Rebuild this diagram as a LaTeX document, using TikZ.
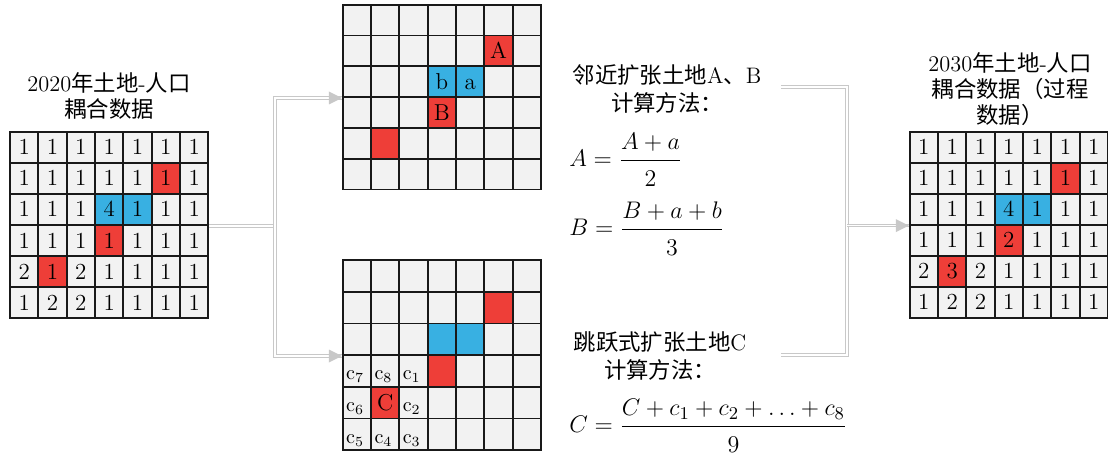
\documentclass[tikz,border=0pt]{standalone}
\usepackage{fontspec}
\newfontfamily\cjk{Noto Sans CJK SC}
\usetikzlibrary{calc}

\definecolor{cellred}{RGB}{238,62,56}
\definecolor{cellblue}{RGB}{56,176,226}
\definecolor{cellgray}{RGB}{242,242,242}
\definecolor{flowgray}{RGB}{200,200,200}

\tikzset{
  cell/.style={draw=black!90, line width=0.9pt, minimum width=14.17pt, inner sep=0pt,
    text height=7.5pt, text depth=0pt, font=\fontsize{11.5}{12}\selectfont},
  celltext/.style={inner sep=0pt, text height=7.5pt, text depth=0pt, font=\fontsize{11.5}{12}\selectfont},
  clabel/.style={inner sep=0pt, font=\fontsize{10}{11}\selectfont},
  title/.style={align=center, inner sep=0pt, font=\fontsize{11.2}{13}\selectfont},
  method/.style={align=center, inner sep=0pt, font=\fontsize{11.2}{14}\selectfont},
  eq/.style={anchor=west, inner sep=0pt, font=\fontsize{13}{15}\selectfont},
  flow/.style={draw=flowgray, double=white, double distance=0.8pt, line width=0.5pt},
}

\begin{document}
\begin{tikzpicture}[x=0.5pt, y=-0.5pt]
\useasboundingbox (0,0) rectangle (1108,465);

% ===== 2020年の格子 =====
\fill[cellgray] (10,131.7) rectangle ++(198.3,186.6);
\foreach \r/\c/\col in {2/6/cellred, 3/4/cellblue, 3/5/cellblue, 4/4/cellred, 5/2/cellred}
  \fill[\col] ({10+(\c-1)*28.33},{131.7+(\r-1)*31.1}) rectangle ++(28.33,31.1);
\foreach \row [count=\r] in {{1,1,1,1,1,1,1},{1,1,1,1,1,1,1},{1,1,1,4,1,1,1},
                             {1,1,1,1,1,1,1},{2,1,2,1,1,1,1},{1,2,2,1,1,1,1}}
  \foreach \v [count=\c] in \row
    \node[cell, minimum height=15.55pt] (L-\r-\c) at ({10+(\c-0.5)*28.33},{131.7+(\r-0.5)*31.1}) {\v};

\node[title] (ttl-l) at (109,95.5) {2020{\cjk 年土地}-{\cjk 人口}\\{\cjk 耦合数据}};

% ===== 近傍拡張の格子 =====
\fill[cellgray] (342.7,4.7) rectangle ++(198.3,184.8);
\foreach \r/\c/\col in {2/6/cellred, 3/4/cellblue, 3/5/cellblue, 4/4/cellred, 5/2/cellred}
  \fill[\col] ({342.7+(\c-1)*28.33},{4.7+(\r-1)*30.8}) rectangle ++(28.33,30.8);
\foreach \r in {1,...,6}
  \foreach \c in {1,...,7}
    \node[cell, minimum height=15.4pt] (T-\r-\c) at ({342.7+(\c-0.5)*28.33},{4.7+(\r-0.5)*30.8}) {};
\node[celltext] (t-A) at (T-2-6) {A};
\node[celltext] (t-b) at (T-3-4) {b};
\node[celltext] (t-a) at (T-3-5) {a};
\node[celltext] (t-B) at (T-4-4) {B};

% ===== 飛び地拡張の格子 =====
\fill[cellgray] (342.7,260) rectangle ++(198.3,190.2);
\foreach \r/\c/\col in {2/6/cellred, 3/4/cellblue, 3/5/cellblue, 4/4/cellred, 5/2/cellred}
  \fill[\col] ({342.7+(\c-1)*28.33},{260+(\r-1)*31.7}) rectangle ++(28.33,31.7);
\foreach \r in {1,...,6}
  \foreach \c in {1,...,7}
    \node[cell, minimum height=15.85pt] (B-\r-\c) at ({342.7+(\c-0.5)*28.33},{260+(\r-0.5)*31.7}) {};
\node[celltext] (t-C) at (B-5-2) {C};
\foreach \r/\c/\k in {4/1/7, 4/2/8, 4/3/1, 5/1/6, 5/3/2, 6/1/5, 6/2/4, 6/3/3}
  \node[clabel, anchor=base west] (c\k) at ($(B-\r-\c.south west)+(4,-8)$) {c$_{\k}$};

% ===== 計算方法 =====
\node[method] (txt-ab) at (667,89) {{\cjk 邻近扩张土地}A{\cjk 、}B\\{\cjk 计算方法：}};
\node[eq] (eq-a) at (569,160) {$\displaystyle A=\frac{A+a}{\raisebox{-2pt}{$2$}}$};
\node[eq] (eq-b) at (569,229) {$\displaystyle B=\frac{B+a+b}{\raisebox{-2pt}{$3$}}$};

\node[method] (txt-c) at (660,356) {{\cjk 跳跃式扩张土地}C\\{\cjk 计算方法：}};
\node[eq] (eq-c) at (569,426) {$\displaystyle C=\frac{C+c_1+c_2+\ldots+c_8}{\raisebox{-2pt}{$9$}}$};

% ===== 2030年の格子 =====
\fill[cellgray] (909.7,131.7) rectangle ++(198.3,186);
\foreach \r/\c/\col in {2/6/cellred, 3/4/cellblue, 3/5/cellblue, 4/4/cellred, 5/2/cellred}
  \fill[\col] ({909.7+(\c-1)*28.33},{131.7+(\r-1)*31}) rectangle ++(28.33,31);
\foreach \row [count=\r] in {{1,1,1,1,1,1,1},{1,1,1,1,1,1,1},{1,1,1,4,1,1,1},
                             {1,1,1,2,1,1,1},{2,3,2,1,1,1,1},{1,2,2,1,1,1,1}}
  \foreach \v [count=\c] in \row
    \node[cell, minimum height=15.5pt] (R-\r-\c) at ({909.7+(\c-0.5)*28.33},{131.7+(\r-0.5)*31}) {\v};

\node[title] (ttl-r) at (1010,89) {2030{\cjk 年土地}-{\cjk 人口}\\{\cjk 耦合数据（过程}\\{\cjk 数据）}};

% ===== 矢印 =====
\coordinate (jx) at (275,0);
\draw[flow] (L-3-7.south east) -- (L-3-7.south east -| jx);
\draw[flow] (T-3-1.south west) -- (T-3-1.south west -| jx) -- (B-3-1.south west -| jx) -- (B-3-1.south west);

\coordinate (rt) at (781,87);
\coordinate (rb) at (781,355);
\coordinate (rx) at (847,0);
\draw[flow] (rt) -- (rt -| rx) -- (rb -| rx) -- (rb);
\draw[flow] (R-3-1.south west -| rx) -- (R-3-1.south west);

\foreach \n in {T-3-1, B-3-1, R-3-1}
  \fill[flowgray] (\n.south west) -- ++(-13,-6.5) -- ++(0,13) -- cycle;

\end{tikzpicture}
\end{document}
